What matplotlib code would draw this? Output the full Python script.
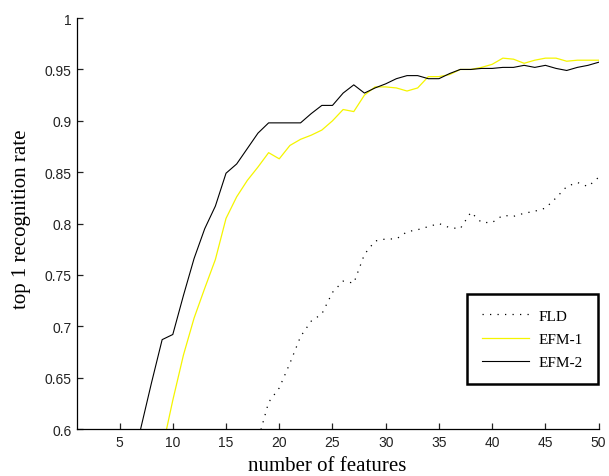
import matplotlib
matplotlib.use('Agg')
import matplotlib.pyplot as plt
import numpy as np

# number of features (x) and top-1 recognition rate for each method
n_features = list(range(1, 51))

fld = [0.40, 0.42, 0.44, 0.46, 0.48, 0.50, 0.51, 0.53, 0.54, 0.55,
       0.555, 0.56, 0.565, 0.57, 0.575, 0.58, 0.585, 0.589, 0.626, 0.640,
       0.664, 0.690, 0.705, 0.712, 0.733, 0.744, 0.742, 0.770, 0.783, 0.785,
       0.785, 0.792, 0.794, 0.797, 0.800, 0.796, 0.795, 0.811, 0.801, 0.801,
       0.808, 0.807, 0.810, 0.812, 0.815, 0.825, 0.836, 0.840, 0.836, 0.845]

efm1 = [0.30, 0.33, 0.36, 0.40, 0.44, 0.48, 0.51, 0.545, 0.58, 0.628,
        0.672, 0.708, 0.737, 0.765, 0.805, 0.826, 0.842, 0.855, 0.869, 0.863,
        0.876, 0.882, 0.886, 0.891, 0.900, 0.911, 0.909, 0.925, 0.933, 0.933,
        0.932, 0.929, 0.932, 0.943, 0.943, 0.945, 0.950, 0.950, 0.952, 0.955,
        0.961, 0.960, 0.956, 0.959, 0.961, 0.961, 0.958, 0.959, 0.959, 0.959]

efm2 = [0.35, 0.39, 0.43, 0.47, 0.51, 0.55, 0.601, 0.645, 0.687, 0.692,
        0.730, 0.766, 0.795, 0.817, 0.849, 0.858, 0.873, 0.888, 0.898, 0.898,
        0.898, 0.898, 0.907, 0.915, 0.915, 0.927, 0.935, 0.927, 0.932, 0.936,
        0.941, 0.944, 0.944, 0.941, 0.941, 0.946, 0.950, 0.950, 0.951, 0.951,
        0.952, 0.952, 0.954, 0.952, 0.954, 0.951, 0.949, 0.952, 0.954, 0.957]

x_ticks = [5, 10, 15, 20, 25, 30, 35, 40, 45, 50]
y_ticks = [0.6, 0.65, 0.7, 0.75, 0.8, 0.85, 0.9, 0.95, 1.0]
y_tick_labels = ['0.6', '0.65', '0.7', '0.75', '0.8', '0.85', '0.9', '0.95', '1']

fig = plt.figure(figsize=(6.09, 4.77), dpi=100)
ax = fig.add_axes([0.1264, 0.0985, 0.8566, 0.8615])

ax.plot(n_features, fld, color='black', linestyle=(0, (1, 5)), linewidth=0.9, label='FLD')
ax.plot(n_features, efm1, color='#f5f500', linewidth=0.9, label='EFM-1')
ax.plot(n_features, efm2, color='black', linewidth=0.8, label='EFM-2')

ax.set_xlim(1, 50)
ax.set_ylim(0.6, 1.0)
ax.set_xticks(x_ticks)
ax.set_yticks(y_ticks)
ax.set_yticklabels(y_tick_labels)

for side in ['top', 'right']:
    ax.spines[side].set_visible(False)
for side in ['left', 'bottom']:
    ax.spines[side].set_linewidth(0.9)

ax.tick_params(direction='in', length=4, width=0.9, labelsize=10, colors='#222222', pad=4)
for lab in ax.get_xticklabels() + ax.get_yticklabels():
    lab.set_family('Liberation Sans')

ax.set_xlabel('number of features', family='Liberation Serif', fontsize=15)
ax.set_ylabel('top 1 recognition rate', family='Liberation Serif', fontsize=15)
ax.xaxis.set_label_coords(0.479, -0.066)
ax.yaxis.set_label_coords(-0.088, 0.513)

leg = ax.legend(loc='upper left', bbox_to_anchor=(0.747, 0.3285), fancybox=False,
                prop={'family': 'Liberation Serif', 'size': 11},
                handlelength=3.1, handletextpad=0.65, labelspacing=0.63,
                borderpad=0.98, borderaxespad=0, framealpha=1)
leg.get_frame().set_edgecolor('black')
leg.get_frame().set_linewidth(1.8)

plt.savefig('out.png', dpi=100)
